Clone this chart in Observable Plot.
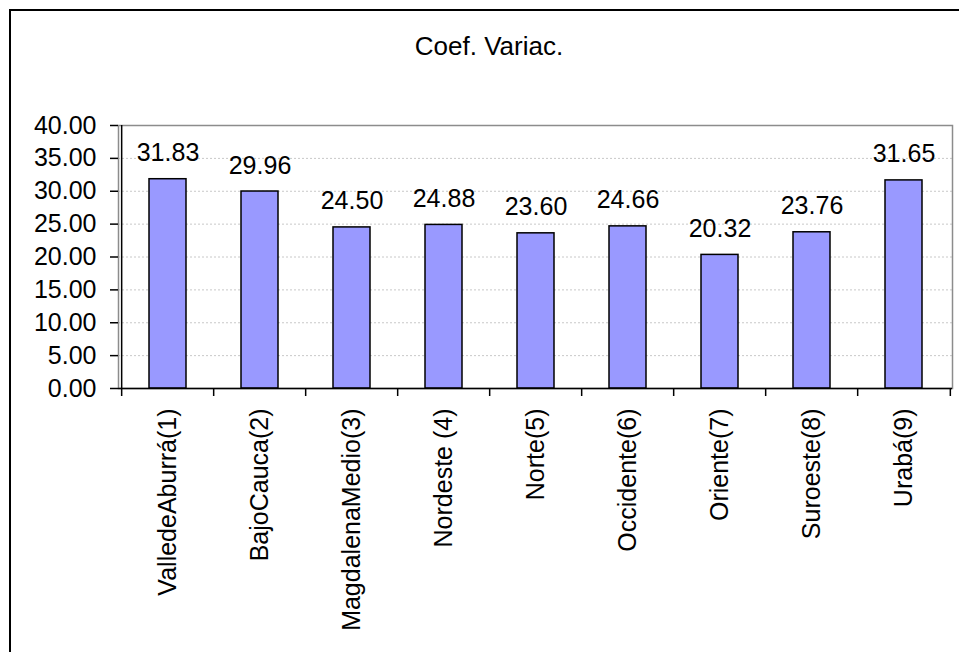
<!DOCTYPE html>
<html>
<head>
<meta charset="utf-8">
<script src="https://cdn.jsdelivr.net/npm/d3@7"></script>
<script src="https://cdn.jsdelivr.net/npm/@observablehq/plot@0.6"></script>
<style>
  html, body { margin: 0; padding: 0; background: #fff; }
  #wrap { position: relative; width: 959px; height: 652px; overflow: hidden; font-family: "Liberation Sans", Arial, sans-serif; }
  #border { position: absolute; left: 9px; top: 9px; width: 1000px; height: 1000px; border: 2px solid #000; box-sizing: border-box; }
  #title { position: absolute; left: 0; top: 33px; width: 978px; text-align: center; font-size: 26px; line-height: 1; color: #000; }
  #chart { position: absolute; left: 0; top: 0; }
</style>
</head>
<body>
<div id="wrap">
  <div id="border"></div>
  <div id="chart"></div>
  <div id="title">Coef. Variac.</div>
</div>
<script>
const categories = ["ValledeAburrá(1)", "BajoCauca(2)", "MagdalenaMedio(3)", "Nordeste (4)", "Norte(5)", "Occidente(6)", "Oriente(7)", "Suroeste(8)", "Urabá(9)"];
const values = [31.83, 29.96, 24.50, 24.88, 23.60, 24.66, 20.32, 23.76, 31.65];
const yTicks = [0, 5, 10, 15, 20, 25, 30, 35, 40];

const data = categories.map((c, i) => ({cat: c, val: values[i]}));

const W = 959, H = 652, ML = 118, MR = 7, MT = 125, MB = 264;
const step = (W - ML - MR) / categories.length;
const font = "'Liberation Sans', Arial, sans-serif";

const chart = Plot.plot({
  width: W,
  height: H,
  marginLeft: ML,
  marginRight: MR,
  marginTop: MT,
  marginBottom: MB,
  style: {fontFamily: font, fontSize: "25px", color: "#000", background: "transparent"},
  x: {domain: categories, paddingInner: 0.6, paddingOuter: 0.3, label: null},
  y: {domain: [0, 40], label: null},
  marks: [
    Plot.gridY(yTicks.filter(t => t > 0 && t < 40), {stroke: "#c8c8c8", strokeOpacity: 1, strokeDasharray: "2,2"}),
    Plot.frame({stroke: "#8c8c8c", strokeWidth: 1.5}),
    Plot.barY(data, {x: "cat", y: "val", fill: "#9999FF", stroke: "#000", strokeWidth: 1.5}),
    Plot.text(data, {x: "cat", y: "val", text: d => d.val.toFixed(2), dy: -26, fontSize: 25, fill: "#000"}),
    Plot.ruleY([0], {stroke: "#000", strokeWidth: 1.5}),
    Plot.ruleX([categories[0]], {x: d => d, dx: -step / 2, y1: 40, y2: 0, insetBottom: -8, stroke: "#000", strokeWidth: 1.5}),
    Plot.ruleX(categories.slice(1), {x: d => d, dx: -step / 2, y1: 0, y2: 0, insetBottom: -8, stroke: "#000", strokeWidth: 1.5}),
    Plot.ruleX([categories[categories.length - 1]], {x: d => d, dx: step / 2, y1: 0, y2: 0, insetBottom: -8, stroke: "#000", strokeWidth: 1.5}),
    Plot.axisY({ticks: yTicks, tickFormat: d => d.toFixed(2), tickSize: 8, tickPadding: 14, label: null, fontSize: 25, strokeWidth: 1.5}),
    Plot.axisX({tickRotate: -90, tickSize: 0, tickPadding: 20, label: null, fontSize: 25})
  ]
});
document.getElementById("chart").appendChild(chart);
</script>
</body>
</html>
